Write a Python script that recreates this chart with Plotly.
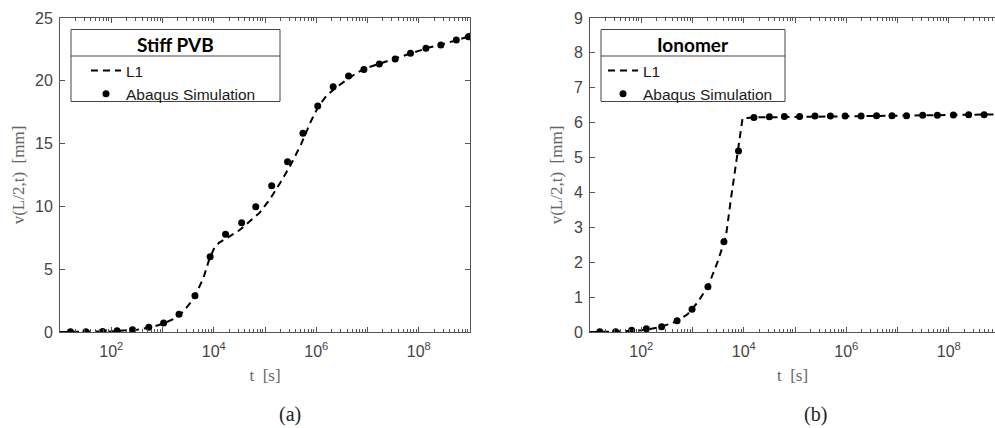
import plotly.graph_objects as go

# ---------------- data ----------------
# (a) Stiff PVB
pvb_sim_t = [1.6e1, 3.2e1, 6.8e1, 1.3e2, 2.6e2, 5.4e2, 1.05e3, 2.1e3, 4.3e3, 8.5e3,
             1.7e4, 3.5e4, 6.6e4, 1.35e5, 2.75e5, 5.5e5, 1.07e6, 2.14e6, 4.27e6, 8.5e6,
             1.7e7, 3.47e7, 6.9e7, 1.38e8, 2.7e8, 5.4e8, 9.3e8, 1.0e9]
pvb_sim_v = [0.02, 0.02, 0.03, 0.10, 0.18, 0.37, 0.72, 1.41, 2.89, 6.00,
             7.78, 8.70, 9.98, 11.65, 13.56, 15.82, 18.00, 19.53, 20.38, 20.90,
             21.34, 21.74, 22.19, 22.59, 22.85, 23.25, 23.50, 23.55]
pvb_l1_t = [1e1, 3.16e1, 1e2, 3.16e2, 6.3e2, 1e3, 1.58e3, 2.5e3, 4e3, 6.3e3, 7.9e3,
            1e4, 1.26e4, 2e4, 3.16e4, 5e4, 7.9e4, 1.26e5, 2e5, 3.16e5, 5e5, 7.9e5,
            1.12e6, 1.58e6, 2.5e6, 4e6, 6.3e6, 1e7, 2e7, 4e7, 7.9e7, 1.58e8, 3.16e8,
            6.3e8, 1e9]
pvb_l1_v = [0.0, 0.01, 0.05, 0.18, 0.40, 0.65, 1.0, 1.6, 2.6, 4.3, 5.6,
            6.6, 7.1, 7.6, 8.1, 8.8, 9.5, 10.6, 11.9, 13.3, 14.9, 16.8,
            18.0, 18.8, 19.5, 20.1, 20.65, 21.05, 21.45, 21.85, 22.25, 22.65, 22.95,
            23.3, 23.55]

# (b) Ionomer
ion_sim_t = [1.55e1, 3.16e1, 6.5e1, 1.26e2, 2.5e2, 5e2, 9.8e2, 2e3, 4.1e3, 7.9e3,
             1.58e4, 3.16e4, 6.2e4, 1.23e5, 2.45e5, 4.9e5, 9.5e5, 1.95e6, 3.9e6, 7.8e6,
             1.5e7, 3.1e7, 6e7, 1.23e8, 2.45e8, 4.9e8, 9.8e8]
ion_sim_v = [0.01, 0.01, 0.05, 0.09, 0.15, 0.32, 0.65, 1.30, 2.59, 5.19,
             6.15, 6.17, 6.18, 6.18, 6.19, 6.19, 6.19, 6.19, 6.20, 6.20,
             6.20, 6.21, 6.21, 6.22, 6.23, 6.23, 6.24]
ion_l1_t = [1e1, 3.16e1, 1e2, 2e2, 4e2, 7.9e2, 1.26e3, 2e3, 3.16e3, 4.5e3, 5.6e3,
            7.1e3, 8.5e3, 9.5e3, 1.58e4, 1e5, 1e6, 1e7, 1e8, 1e9]
ion_l1_v = [0.0, 0.01, 0.05, 0.12, 0.25, 0.50, 0.85, 1.30, 2.05, 2.75, 3.8,
            4.8, 5.6, 6.13, 6.15, 6.17, 6.19, 6.20, 6.22, 6.24]

x_tick_vals = [1e1, 1e2, 1e3, 1e4, 1e5, 1e6, 1e7, 1e8, 1e9]
x_tick_text = ["", "10<sup>2</sup>", "", "10<sup>4</sup>", "", "10<sup>6</sup>", "",
               "10<sup>8</sup>", ""]
panel_titles = ["Stiff PVB", "Ionomer"]
captions = ["(a)", "(b)"]

# ---------------- figure ----------------
W, H = 995, 428
def px(x):
    return x / W
def py(y):
    return 1 - y / H

SANS = "Liberation Sans, Arial, Helvetica, sans-serif"
SERIF = "Liberation Serif, Times New Roman, Times, serif"
AX = "#555555"
TXT = "#444444"
LINE_STYLE = dict(color="black", width=2, dash="7px,5px")
MARK = dict(color="black", size=7)

fig = go.Figure()
fig.add_trace(go.Scatter(x=pvb_l1_t, y=pvb_l1_v, mode="lines", name="L1",
                         line=LINE_STYLE, xaxis="x", yaxis="y", legend="legend"))
fig.add_trace(go.Scatter(x=pvb_sim_t, y=pvb_sim_v, mode="markers", name="Abaqus Simulation",
                         marker=MARK, xaxis="x", yaxis="y", legend="legend"))
fig.add_trace(go.Scatter(x=ion_l1_t, y=ion_l1_v, mode="lines", name="L1",
                         line=LINE_STYLE, xaxis="x2", yaxis="y2", legend="legend2"))
fig.add_trace(go.Scatter(x=ion_sim_t, y=ion_sim_v, mode="markers", name="Abaqus Simulation",
                         marker=MARK, xaxis="x2", yaxis="y2", legend="legend2"))

minor_vals = [k * 10 ** d for d in range(1, 9) for k in range(2, 10)]

def xaxis(domain, rng, anchor, mirror):
    return dict(domain=domain, type="log", range=rng, anchor=anchor,
                showline=True, linecolor=AX, linewidth=1, mirror=mirror,
                ticks="inside", ticklen=5, tickcolor=AX,
                tickmode="array", tickvals=x_tick_vals, ticktext=x_tick_text,
                minor=dict(ticks="inside", ticklen=3, tickcolor=AX,
                           tickmode="array", tickvals=minor_vals, showgrid=False),
                showgrid=False, zeroline=False, automargin=False,
                ticklabelstandoff=5,
                tickfont=dict(family=SANS, size=16, color=TXT),
                title=dict(text="t  [s]", standoff=9,
                           font=dict(family=SERIF, size=17, color="#666666")))

def yaxis(domain, rng, dtick, anchor, mirror):
    return dict(domain=domain, range=rng, dtick=dtick, anchor=anchor,
                showline=True, linecolor=AX, linewidth=1, mirror=mirror,
                ticks="inside", ticklen=5, tickcolor=AX,
                showgrid=False, zeroline=False, automargin=False,
                ticklabelstandoff=3,
                tickfont=dict(family=SANS, size=16, color=TXT),
                title=dict(text="v(L/2,t)  [mm]", standoff=6,
                           font=dict(family=SERIF, size=17, color="#666666")))

ydom = [py(332), py(18)]
fig.update_layout(
    width=W, height=H,
    margin=dict(l=0, r=0, t=0, b=0),
    paper_bgcolor="white", plot_bgcolor="white",
    xaxis=xaxis([px(60), px(470)], [1, 9], "y", "ticks"),
    yaxis=yaxis(ydom, [0, 25], 5, "x", "ticks"),
    xaxis2=xaxis([px(590), 1.0], [1, 1 + 405 / 51.25], "y2", "ticks"),
    yaxis2=yaxis(ydom, [0, 9], 1, "x2", False),
    legend=dict(x=px(86), y=py(54), xanchor="left", yanchor="top",
                bgcolor="rgba(0,0,0,0)", borderwidth=0, tracegroupgap=0,
                font=dict(family=SANS, size=15.5, color="#1a1a1a")),
    legend2=dict(x=px(603), y=py(54), xanchor="left", yanchor="top",
                 bgcolor="rgba(0,0,0,0)", borderwidth=0, tracegroupgap=0,
                 font=dict(family=SANS, size=15.5, color="#1a1a1a")),
    showlegend=True,
)

# legend frames with title compartments (MATLAB-style)
boxes = [(71, 280, 175.5), (601, 785, 693)]
shapes = []
annotations = []
for (x0, x1, xc), title, cap, capx in zip(boxes, panel_titles, captions, [290, 815]):
    shapes.append(dict(type="rect", xref="paper", yref="paper",
                       x0=px(x0), x1=px(x1), y0=py(101.5), y1=py(29.5),
                       line=dict(color="#444444", width=1), fillcolor="white", layer="below"))
    shapes.append(dict(type="line", xref="paper", yref="paper",
                       x0=px(x0), x1=px(x1), y0=py(56), y1=py(56),
                       line=dict(color="#444444", width=1)))
    annotations.append(dict(text="<b>%s</b>" % title, xref="paper", yref="paper",
                            x=px(xc), y=py(44), xanchor="center", yanchor="middle",
                            showarrow=False,
                            font=dict(family="Lato, sans-serif", size=19, color="black")))
    annotations.append(dict(text=cap, xref="paper", yref="paper",
                            x=px(capx), y=py(414), xanchor="center", yanchor="middle",
                            showarrow=False,
                            font=dict(family=SERIF, size=20, color="#222222")))
fig.update_layout(shapes=shapes, annotations=annotations)

fig.write_html("out.html", config={"displayModeBar": False},
               post_script="document.body.style.margin='0px';document.body.style.overflow='hidden';")
